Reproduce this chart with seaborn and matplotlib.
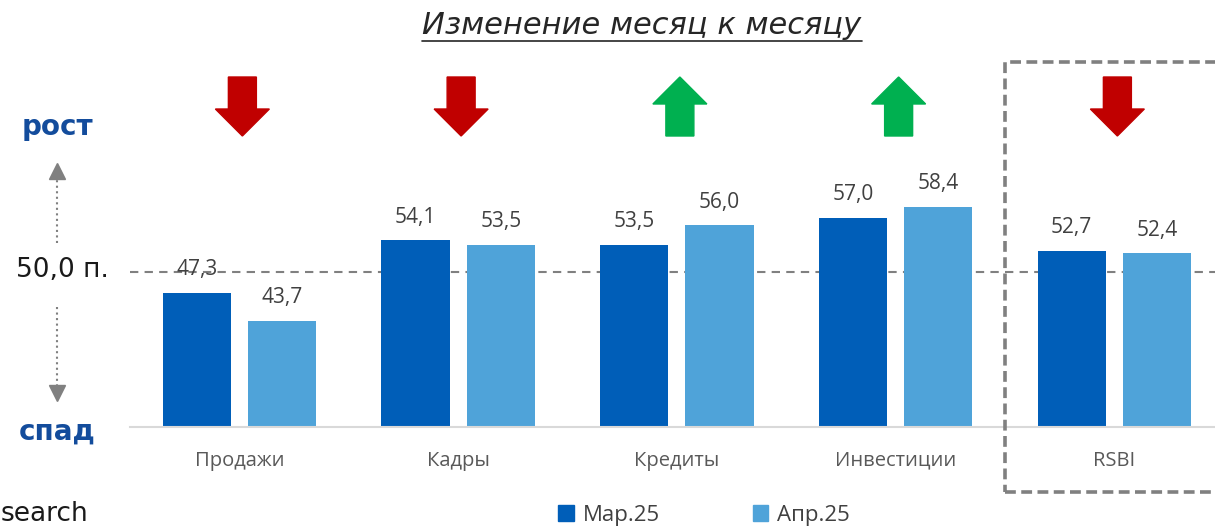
import matplotlib
matplotlib.use("Agg")
import matplotlib.pyplot as plt
import matplotlib.patches as mpatches
import matplotlib.transforms as mtransforms
from matplotlib.lines import Line2D
import pandas as pd
import seaborn as sns

categories = ["Продажи", "Кадры", "Кредиты", "Инвестиции", "RSBI"]
periods = ["Мар.25", "Апр.25"]
mar_values = [47.3, 54.1, 53.5, 57.0, 52.7]
apr_values = [43.7, 53.5, 56.0, 58.4, 52.4]
directions = ["down", "down", "up", "up", "down"]

DARK = "#005EB8"
LIGHT = "#4FA3D9"
RED = "#C00000"
GREEN = "#00B050"
NAVY = "#134C9C"
GREY = "#808080"

df = pd.DataFrame({
    "category": categories * 2,
    "period": [periods[0]] * len(categories) + [periods[1]] * len(categories),
    "value": mar_values + apr_values,
})

sns.set_theme(style="white")
plt.rcParams["font.family"] = ["Open Sans", "DejaVu Sans"]

W, H = 1215, 527
fig = plt.figure(figsize=(W / 100, H / 100), dpi=100)
ax = fig.add_axes([130 / W, 100 / H, 1 - 130 / W, 367 / H])

sns.barplot(data=df, x="category", y="value", hue="period", palette=[DARK, LIGHT],
            width=0.78, gap=0.2, linewidth=0, saturation=1, legend=False, ax=ax)

ax.set_ylim(30, 77.3)
ax.set_xlim(-0.5, 4.46)
ax.set_xlabel("")
ax.set_ylabel("")
ax.set_yticks([])
for s in ["top", "right", "left"]:
    ax.spines[s].set_visible(False)
ax.spines["bottom"].set_color("#D9D9D9")
ax.spines["bottom"].set_linewidth(1.5)
ax.tick_params(axis="x", length=0, pad=17, labelsize=14.5, colors="#595959")

for cont in ax.containers:
    labels = [f"{b.get_height():.1f}".replace(".", ",") for b in cont]
    ax.bar_label(cont, labels=labels, padding=9, fontsize=15, color="#404040")

# 50 reference line
ax.axhline(50, color=GREY, lw=1.5, ls=(0, (4, 3)), zorder=0.5)

# block arrows showing direction, drawn in pixel space
ident = mtransforms.IdentityTransform()
for i, d in enumerate(directions):
    xc = ax.transData.transform((i, 50))[0] + 3
    top, bot = H - 77, H - 136
    hs, hh, hl = 14, 27, 27
    if d == "down":
        pts = [(xc - hs, top), (xc + hs, top), (xc + hs, bot + hl), (xc + hh, bot + hl),
               (xc, bot), (xc - hh, bot + hl), (xc - hs, bot + hl)]
        col = RED
    else:
        pts = [(xc - hs, bot), (xc + hs, bot), (xc + hs, top - hl), (xc + hh, top - hl),
               (xc, top), (xc - hh, top - hl), (xc - hs, top - hl)]
        col = GREEN
    fig.add_artist(mpatches.Polygon(pts, closed=True, color=col, transform=ident))

# dashed box around RSBI
fig.add_artist(mpatches.Rectangle((1005 / W, 1 - 492 / H), 0.3, (492 - 62) / H,
                                  transform=fig.transFigure, fill=False,
                                  edgecolor=GREY, lw=2.6, ls=(0, (3, 1.5))))

# title with underline
title = fig.text(642 / W, 1 - 25 / H, "Изменение месяц к месяцу", ha="center", va="center",
                 fontsize=22, style="italic", color="#262626", family="DejaVu Sans")
fig.canvas.draw()
bb = title.get_window_extent()
fig.add_artist(Line2D([bb.x0, bb.x1], [H - 41, H - 41], color="#262626", lw=1.2, transform=ident))

# left annotations
fig.text(57 / W, 1 - 127 / H, "рост", ha="center", va="center", fontsize=20,
         fontweight="bold", color=NAVY, family="DejaVu Sans")
fig.text(57 / W, 1 - 432 / H, "спад", ha="center", va="center", fontsize=20,
         fontweight="bold", color=NAVY, family="DejaVu Sans")
fig.text(62 / W, 1 - 270 / H, "50,0 п.", ha="center", va="center", fontsize=19,
         color="#1a1a1a", family="DejaVu Sans")

xa = 57
fig.add_artist(Line2D([xa, xa], [H - 243, H - 178], color=GREY, lw=1.5, ls=":", transform=ident))
fig.add_artist(Line2D([xa], [H - 171], marker="^", ms=11, color=GREY, transform=ident))
fig.add_artist(Line2D([xa, xa], [H - 307, H - 386], color=GREY, lw=1.5, ls=":", transform=ident))
fig.add_artist(Line2D([xa], [H - 393], marker="v", ms=11, color=GREY, transform=ident))

# source text at the bottom edge
fig.text(1 / W, 1 - 514 / H, "search", ha="left", va="center", fontsize=19,
         color="#1a1a1a", family="DejaVu Sans")

handles = [mpatches.Patch(color=DARK, label=periods[0]),
           mpatches.Patch(color=LIGHT, label=periods[1])]
fig.legend(handles=handles, loc="center", bbox_to_anchor=(704 / W, 12 / H), ncol=2,
           frameon=False, fontsize=16, handlelength=0.7, handleheight=0.7,
           handletextpad=0.4, columnspacing=4.2, labelcolor="#404040")

fig.savefig("out.png", dpi=100)
